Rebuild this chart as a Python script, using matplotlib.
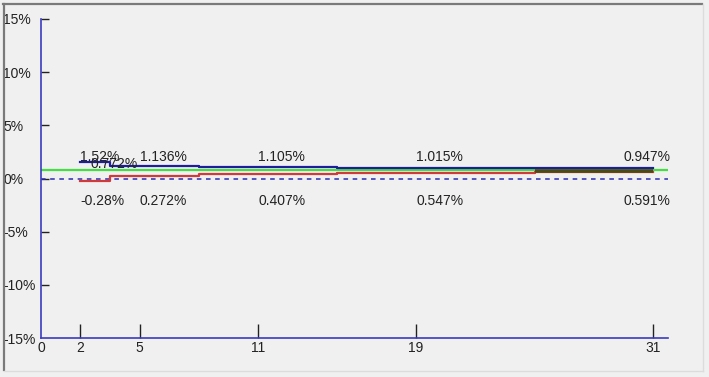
import matplotlib
matplotlib.use("Agg")
import matplotlib.pyplot as plt
from matplotlib.lines import Line2D

# chart values
x_points = [2, 5, 11, 19, 31]
upper_vals = [1.52, 1.136, 1.105, 1.015, 0.947]
lower_vals = [-0.28, 0.272, 0.407, 0.547, 0.591]
avg_val = 0.772
tail_x = [25, 31]
tail_vals = [0.7, 0.7]
x_ticks = [0, 2, 5, 11, 19, 31]
y_ticks = [15, 10, 5, 0, -5, -10, -15]

W, H = 709, 377
BG = '#f0f0f0'
AXIS_BLUE = '#3a3ac0'

plt.rcParams['font.family'] = ['Liberation Sans', 'DejaVu Sans']

fig = plt.figure(figsize=(W / 100, H / 100), dpi=100, facecolor=BG)
ax = fig.add_axes([41 / W, (H - 338) / H, (668 - 41) / W, (338 - 19) / H])
ax.set_facecolor(BG)
ax.set_xlim(0, 31.76)
ax.set_ylim(-15, 15)

for side in ('top', 'right'):
    ax.spines[side].set_visible(False)
for side in ('left', 'bottom'):
    ax.spines[side].set_color(AXIS_BLUE)
    ax.spines[side].set_linewidth(1.2)

# reference lines
ax.axhline(0, color='#2a2ab0', lw=1.1, ls=(0, (3, 3)))
ax.axhline(avg_val, color='#44dd44', lw=1.6)

# series
ax.step(x_points, lower_vals, where='mid', color='#d03a3a', lw=1.6)
ax.step(x_points, upper_vals, where='mid', color='#1e1e9a', lw=1.6)
ax.plot(tail_x, tail_vals, color='#4a4a12', lw=2.6, solid_capstyle='butt')

# value labels
fs = 10
for i, (xv, up, lo) in enumerate(zip(x_points, upper_vals, lower_vals)):
    last = i == len(x_points) - 1
    ha = 'right' if last else 'left'
    xpos = 31.9 if last else xv
    ax.text(xpos, 2.0, f'{up:g}%', ha=ha, va='center', fontsize=fs,
            color='#222222', clip_on=False)
    ax.text(xpos, -2.1, f'{lo:g}%', ha=ha, va='center', fontsize=fs,
            color='#222222', clip_on=False)
ax.text(2.5, 1.4, f'{avg_val:g}%', ha='left', va='center', fontsize=fs,
        color='#222222')

# ticks
ax.set_xticks(x_ticks)
ax.set_xticklabels([str(t) for t in x_ticks], fontsize=fs, color='#222222')
ax.tick_params(axis='x', direction='in', length=10, width=1, color='#222222', pad=2)
ax.xaxis.get_major_ticks()[0].tick1line.set_visible(False)

ax.set_yticks(y_ticks)
ax.set_yticklabels([f'{t}%' for t in y_ticks], fontsize=fs, color='#222222')
ax.tick_params(axis='y', direction='in', length=6, width=1, color='#222222', pad=27)
for lab in ax.get_yticklabels():
    lab.set_horizontalalignment('left')
ax.yaxis.get_major_ticks()[-1].tick1line.set_visible(False)

# sunken panel border
fig.add_artist(Line2D([3 / W, 702 / W], [1 - 4 / H, 1 - 4 / H], transform=fig.transFigure,
                      color='#7a7a7a', lw=1.6))
fig.add_artist(Line2D([4 / W, 4 / W], [1 - 4 / H, 1 - 370 / H], transform=fig.transFigure,
                      color='#7a7a7a', lw=1.6))
fig.add_artist(Line2D([703 / W, 703 / W], [1 - 4 / H, 1 - 371 / H], transform=fig.transFigure,
                      color='#dcdcdc', lw=1.0))
fig.add_artist(Line2D([4 / W, 703 / W], [1 - 371 / H, 1 - 371 / H], transform=fig.transFigure,
                      color='#dcdcdc', lw=1.0))

fig.savefig('out.png', dpi=100, facecolor=BG)
